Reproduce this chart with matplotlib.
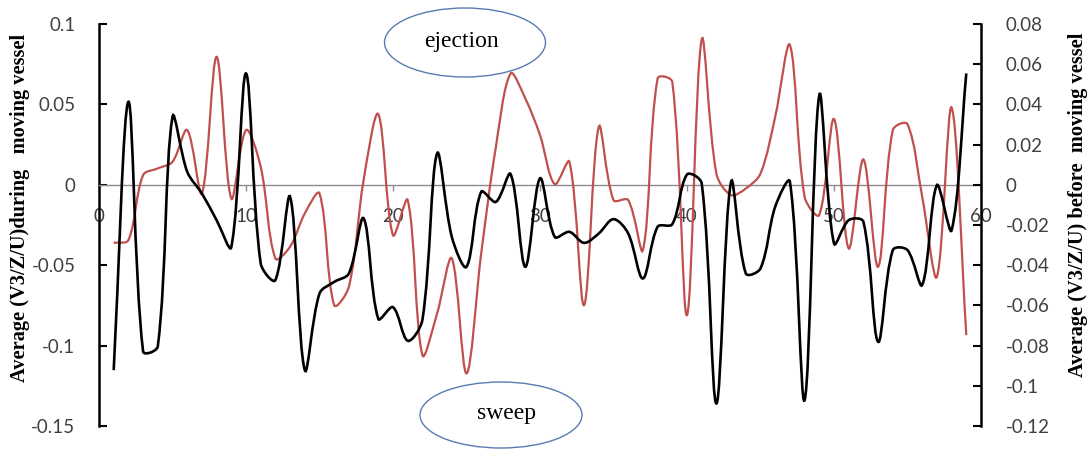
import matplotlib
matplotlib.use("Agg")
import math
import matplotlib.pyplot as plt
from matplotlib.path import Path
from matplotlib.patches import PathPatch, Ellipse

x_vals = list(range(1, 60))

during_vals = [-0.0361, -0.0344, 0.0060, 0.0102, 0.0143, 0.0340, -0.0054, 0.0796, -0.0085, 0.0340,
               0.0112, -0.0458, -0.0385, -0.0178, -0.0054, -0.0748, -0.0634, 0.0029, 0.0439, -0.0313,
               -0.0095, -0.1059, -0.0800, -0.0458, -0.1173, -0.0427, 0.0236, 0.0692, 0.0537, 0.0309,
               0.0004, 0.0143, -0.0748, 0.0361, -0.0095, -0.0095, -0.0406, 0.0661, 0.0640, -0.0810,
               0.0904, 0.0070, -0.0064, -0.0023, 0.0070, 0.0423, 0.0869, -0.0075, -0.0187, 0.0409,
               -0.0396, 0.0158, -0.0510, 0.0340, 0.0377, -0.0075, -0.0572, 0.0481, -0.0935]

before_vals = [-0.0922, 0.0413, -0.0829, -0.0804, 0.0338, 0.0065, -0.0043, -0.0176, -0.0310, 0.0554,
               -0.0391, -0.0474, -0.0060, -0.0922, -0.0541, -0.0483, -0.0441, -0.0167, -0.0667, -0.0609,
               -0.0776, -0.0672, 0.0156, -0.0259, -0.0408, -0.0035, -0.0085, 0.0053, -0.0408, 0.0032,
               -0.0259, -0.0234, -0.0289, -0.0242, -0.0171, -0.0242, -0.0466, -0.0209, -0.0196, 0.0051,
               0.0007, -0.1088, 0.0015, -0.0441, -0.0416, -0.0109, 0.0015, -0.1071, 0.0446, -0.0292,
               -0.0176, -0.0184, -0.0781, -0.0325, -0.0325, -0.0498, -0.0002, -0.0226, 0.0554]

x_ticks = [0, 10, 20, 30, 40, 50, 60]
left_ticks = [0.1, 0.05, 0, -0.05, -0.1, -0.15]
left_labels = ['0.1', '0.05', '0', '-0.05', '-0.1', '-0.15']
right_ticks = [0.08, 0.06, 0.04, 0.02, 0, -0.02, -0.04, -0.06, -0.08, -0.1, -0.12]
right_labels = ['0.08', '0.06', '0.04', '0.02', '0', '-0.02', '-0.04', '-0.06', '-0.08', '-0.1', '-0.12']

left_title = 'Average (V3/Z/U)during   moving vessel'
right_title = 'Average (V3/Z/U) before  moving vessel'


def smooth_path(axis, xs, ys):
    """Smoothed line like a spreadsheet 'smoothed line', built in screen space."""
    tr = axis.transData
    pts = [tuple(p) for p in tr.transform(list(zip(xs, ys)))]
    n = len(pts)

    def dist(a, b):
        return math.hypot(a[0] - b[0], a[1] - b[1])

    verts = [pts[0]]
    codes = [Path.MOVETO]
    for i in range(n - 1):
        p0 = pts[i - 1] if i > 0 else pts[i]
        p1 = pts[i]
        p2 = pts[i + 1]
        p3 = pts[i + 2] if i + 2 < n else pts[i + 1]
        d01, d12, d23 = dist(p0, p1), dist(p1, p2), dist(p2, p3)
        s1 = d12 / (3.0 * (d01 + d12)) if (d01 + d12) > 0 else 0
        s2 = d12 / (3.0 * (d12 + d23)) if (d12 + d23) > 0 else 0
        c1 = (p1[0] + (p2[0] - p0[0]) * s1, p1[1] + (p2[1] - p0[1]) * s1)
        c2 = (p2[0] - (p3[0] - p1[0]) * s2, p2[1] - (p3[1] - p1[1]) * s2)
        verts += [c1, c2, p2]
        codes += [Path.CURVE4] * 3
    inv = tr.inverted()
    return Path(inv.transform(verts), codes)


W, H = 1089, 449
fig = plt.figure(figsize=(W / 100, H / 100), dpi=100)
L, R, T, B = 99, 981, 24, 426
ax = fig.add_axes([L / W, 1 - B / H, (R - L) / W, (B - T) / H])
ax2 = ax.twinx()

tick_font = dict(family=['Lato', 'DejaVu Sans'], size=13.5)
tick_color = '#404040'

ax.set_xlim(0, 60)
ax.set_ylim(-0.15, 0.1)
ax2.set_xlim(0, 60)
ax2.set_ylim(-0.12, 0.08)

red = PathPatch(smooth_path(ax, x_vals, during_vals), fill=False, edgecolor='#c0504d',
                linewidth=1.6, transform=ax.transData, zorder=3)
ax.add_patch(red)
blk = PathPatch(smooth_path(ax2, x_vals, before_vals), fill=False, edgecolor='#000000',
                linewidth=1.9, transform=ax2.transData, zorder=4)
ax2.add_patch(blk)

for s in ['top', 'right']:
    ax.spines[s].set_visible(False)
for s in ['top', 'left', 'bottom']:
    ax2.spines[s].set_visible(False)
ax.spines['bottom'].set_position(('data', 0))
ax.spines['bottom'].set_color('#8c8c8c')
ax.spines['bottom'].set_linewidth(1.0)
ax.spines['left'].set_linewidth(1.8)
ax2.spines['right'].set_linewidth(1.8)

ax.set_xticks(x_ticks)
ax.set_xticklabels([str(v) for v in x_ticks], **tick_font, color=tick_color)
ax.tick_params(axis='x', direction='out', length=4, width=1, color='#8c8c8c', pad=13)

ax.set_yticks(left_ticks)
ax.set_yticklabels(left_labels, **tick_font, color=tick_color)
ax.tick_params(axis='y', direction='in', length=6, width=1.5, color='black', pad=17)

ax2.set_yticks(right_ticks)
ax2.set_yticklabels(right_labels, **tick_font, color=tick_color)
ax2.tick_params(axis='y', direction='in', length=6, width=1.5, color='black', pad=18)

title_font = dict(family=['Liberation Serif', 'DejaVu Serif'], size=14.7, weight='bold')
fig.text(20 / W, 1 - 207.5 / H, left_title, rotation=90, ha='center', va='center', **title_font)
fig.text(1078 / W, 1 - 205 / H, right_title, rotation=90, ha='center', va='center', **title_font)

ell_color = '#5a7bb0'
e1 = Ellipse((465 / 100, (H - 42.5) / 100), 1.61, 0.69, transform=fig.dpi_scale_trans,
             fill=False, edgecolor=ell_color, linewidth=1.0)
e2 = Ellipse((501 / 100, (H - 415) / 100), 1.62, 0.66, transform=fig.dpi_scale_trans,
             fill=False, edgecolor=ell_color, linewidth=1.0)
fig.patches.extend([e1, e2])
ann_font = dict(family=['Liberation Serif', 'DejaVu Serif'], size=17)
fig.text(461 / W, 1 - 42 / H, 'ejection', ha='center', va='center', **ann_font)
fig.text(506 / W, 1 - 414 / H, 'sweep', ha='center', va='center', **ann_font)

fig.savefig('out.png', dpi=100)
